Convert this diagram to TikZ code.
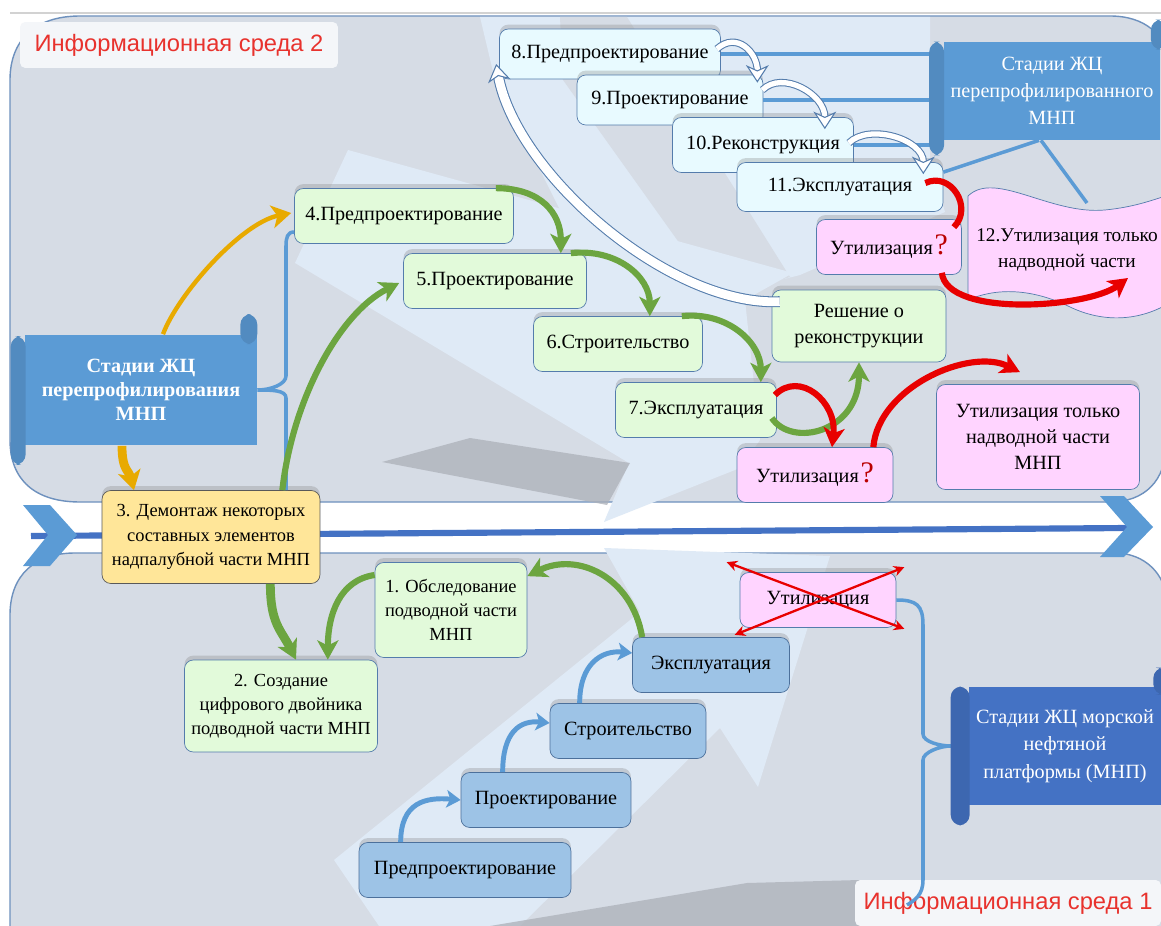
\documentclass[tikz,border=0pt]{standalone}
\usepackage{fontspec}
\setmainfont{Liberation Serif}
\newfontfamily\titlefont{Liberation Sans}
\usetikzlibrary{arrows.meta,shadows,calc,positioning}

\definecolor{panelgray}{RGB}{214,220,229}
\definecolor{paneledge}{RGB}{110,145,190}
\definecolor{palebg}{RGB}{223,234,246}
\definecolor{shadegray}{RGB}{172,176,184}
\definecolor{greenfill}{RGB}{226,250,218}
\definecolor{cyanfill}{RGB}{232,250,255}
\definecolor{pinkfill}{RGB}{255,212,255}
\definecolor{bluefill}{RGB}{157,195,230}
\definecolor{yellowfill}{RGB}{255,230,153}
\definecolor{boxedge}{RGB}{84,124,172}
\definecolor{scrollA}{RGB}{91,155,213}
\definecolor{scrollC}{RGB}{68,114,196}
\definecolor{greenarr}{RGB}{108,165,64}
\definecolor{redarr}{RGB}{232,0,0}
\definecolor{orangearr}{RGB}{232,170,0}
\definecolor{linkblue}{RGB}{91,155,213}
\definecolor{titlered}{RGB}{232,50,45}
\definecolor{titlefill}{RGB}{244,246,249}

\newcommand{\qsign}{\kern1pt\textcolor{redarr!80!black}{\fontsize{17}{15}\selectfont ?}}

\tikzset{
  panel/.style={fill=panelgray, draw=paneledge, line width=0.8pt},
  pale/.style={fill=palebg},
  shade/.style={fill=shadegray, opacity=0.75},
  title/.style={fill=titlefill, rounded corners=3pt, minimum width=6.36cm, minimum height=0.92cm,
    text=titlered, font=\titlefont\fontsize{13.5}{16}\selectfont},
  stage/.style={draw=boxedge, rounded corners=5pt, minimum height=1.1cm, align=center, inner sep=2pt,
    font=\fontsize{11.5}{15}\selectfont,
    drop shadow={shadow xshift=0pt, shadow yshift=2.5pt, opacity=0.3}},
  gbox/.style={stage, fill=greenfill},
  cbox/.style={stage, fill=cyanfill},
  pbox/.style={stage, fill=pinkfill},
  bbox/.style={stage, fill=bluefill, draw=boxedge!90!black},
  ybox/.style={stage, fill=yellowfill, draw=gray!70!black, font=\fontsize{10.5}{14}\selectfont},
  smalltext/.style={font=\fontsize{10.5}{13.8}\selectfont},
  scroll/.style={fill=scrollA, text=white, align=center, inner sep=2pt,
    font=\fontsize{11.5}{15.5}\selectfont},
  curl/.style={fill=#1!90!black, rounded corners=6pt},
  link/.style={draw=linkblue, line width=2pt},
  garrow/.style={draw=greenarr, line width=3.5pt, -{Stealth[length=11pt, width=12pt, inset=3pt]}},
  rarrow/.style={draw=redarr, line width=3.5pt, -{Stealth[length=11pt, width=12pt, inset=3pt]}},
  oarrow/.style={draw=orangearr, line width=2.5pt, -{Stealth[length=11pt, width=13pt, inset=3pt]}},
  barrow/.style={draw=linkblue, line width=2.8pt, -{Stealth[length=8pt, width=10pt, inset=2pt]}},
  hollow/.style={draw=boxedge, line width=0.6pt, double=white, double distance=#1,
    -{Stealth[length=10pt, width=13pt, inset=3pt, fill=white]}},
  hollow/.default=3pt,
  cross/.style={draw=redarr, line width=1.3pt, {Stealth[length=6pt, width=6pt]}-{Stealth[length=6pt, width=6pt]}}
}

\begin{document}
\begin{tikzpicture}[x=0.02cm, y=-0.02cm]
  \useasboundingbox (0,0) rectangle (1161,926);
  \fill[white] (0,0) rectangle (1161,926);
  \draw[gray!35, line width=0.8pt] (10,13) -- (1161,13);

  % Information environments
  \draw[panel] (10,80) .. controls (10,40) and (35,16) .. (80,16) -- (1110,16)
    .. controls (1145,16) and (1166,35) .. (1166,60) -- (1166,445)
    .. controls (1166,480) and (1145,502) .. (1110,502) -- (80,502)
    .. controls (35,502) and (10,480) .. (10,440) -- cycle;
  \draw[panel] (10,940) -- (10,615) .. controls (10,575) and (35,553) .. (75,553) -- (1115,553)
    .. controls (1145,553) and (1166,575) .. (1166,600) -- (1166,940) -- cycle;

  % Light background shapes
  \fill[pale] (480,17) -- (930,17) -- (930,160) -- (945,212) -- (800,275) -- (700,300) -- (560,210) -- (495,80) -- cycle;
  \fill[panelgray] (560,17) -- (627,17) -- (790,277) -- (720,300) -- (563,80) -- cycle;
  \fill[pale] (348,150) -- (793,273) -- (745,300) -- (760,440) -- (740,468) -- (604,522) -- (629,463) -- (295,263) -- cycle;
  \fill[pale] (334,860) -- (640,612) -- (604,548) -- (830,556) -- (758,787) -- (720,728) -- (520,926) -- (379,926) -- cycle;
  \fill[shade] (382,462) -- (470,438) -- (630,463) -- (607,505) -- cycle;
  \fill[shade] (490,926) -- (747,883) -- (860,880) -- (860,926) -- cycle;

  % Time axis
  \draw[scrollC, line width=3.5pt] (31,536) -- (1128,528);
  \fill[scrollA] (23,505) -- (50,505) -- (77,535) -- (50,566) -- (23,566) -- (48,535) -- cycle;
  \fill[scrollA] (1100,496) -- (1124,496) -- (1153,527) -- (1124,557) -- (1100,557) -- (1127,527) -- cycle;

  % Titles
  \node[title] (env2) at (179,45) {Информационная среда 2};
  \node[title, minimum width=6.12cm] (env1) at (1008,903) {Информационная среда 1};

  % Scrolls
  \node[scroll, minimum width=4.64cm, minimum height=2.22cm, font=\bfseries\fontsize{11.5}{13.5}\selectfont] (scA) at (141,390) {Стадии ЖЦ\\перепрофилирования\\МНП};
  \node[scroll, minimum width=4.34cm, minimum height=1.96cm] (scB) at (1052,91) {Стадии ЖЦ\\перепрофилированного\\МНП};
  \node[scroll, fill=scrollC, minimum width=3.84cm, minimum height=2.36cm] (scC) at (1065,746) {Стадии ЖЦ морской\\нефтяной\\платформы (МНП)};

  % Upper stages (second life cycle)
  \node[cbox, minimum width=4.42cm, minimum height=1.0cm] (b8) at (610,54) {8.Предпроектирование};
  \node[cbox, minimum width=3.72cm, minimum height=1.0cm] (b9) at (670,100) {9.Проектирование};
  \node[cbox, minimum width=3.62cm] (b10) at (763,145) {10.Реконструкция};
  \node[cbox, minimum width=4.12cm, minimum height=0.98cm] (b11) at (840,187) {11.Эксплуатация};
  \node[pbox, minimum width=2.9cm] (uu) at (889,247) {Утилизация\qsign};
  \coordinate (wtop) at (1087,203);
  \draw[link] ($(scB.south)+(-11,0)$) -- (wtop);
  \draw[fill=pinkfill, draw=boxedge] (968,196) .. controls (995,170) and (1050,215) .. (1105,210)
    .. controls (1135,207) and (1152,200) .. (1166,196) -- (1166,305)
    .. controls (1135,322) and (1100,322) .. (1068,306)
    .. controls (1030,288) and (995,288) .. (968,300) -- cycle;
  \node[align=center, font=\fontsize{11}{15}\selectfont] (w12) at (1067,250) {12.Утилизация только\\надводной части};

  % Middle stages (re-profiling)
  \node[gbox, minimum width=4.38cm] (b4) at (404,216) {4.Предпроектирование};
  \node[gbox, minimum width=3.66cm] (b5) at (495,281) {5.Проектирование};
  \node[gbox, minimum width=3.38cm] (b6) at (618,344) {6.Строительство};
  \node[gbox, minimum width=3.22cm] (b7) at (696,410) {7.Эксплуатация};
  \node[gbox, minimum width=3.48cm, minimum height=1.44cm] (dec) at (859,326) {Решение о\\реконструкции};
  \node[pbox, minimum width=3.12cm] (um) at (815,475) {Утилизация\qsign};
  \node[pbox, minimum width=4.06cm, minimum height=2.1cm] (us) at (1038,437) {Утилизация только\\надводной части\\МНП};

  % Lower stages (platform)
  \node[ybox, minimum width=4.36cm, minimum height=1.86cm] (b3) at (211,537) {3. Демонтаж некоторых\\составных элементов\\надпалубной части МНП};
  \node[gbox, smalltext, minimum width=3.04cm, minimum height=1.9cm] (b1) at (451,610) {1. Обследование\\подводной части\\МНП};
  \node[gbox, smalltext, minimum width=3.86cm, minimum height=1.84cm] (b2) at (281,706) {2. Создание\\цифрового двойника\\подводной части МНП};
  \node[bbox, minimum width=4.24cm] (p1) at (465,870) {Предпроектирование};
  \node[bbox, minimum width=3.4cm] (p2) at (546,800) {Проектирование};
  \node[bbox, minimum width=3.12cm] (p3) at (628,731) {Строительство};
  \node[bbox, minimum width=3.14cm] (p4) at (711,665) {Эксплуатация};
  \node[pbox, minimum width=3.12cm] (ux) at (818,600) {Утилизация};

  % Links to the scrolls
  \foreach \b in {b8,b9,b10}
    \draw[link] (\b.east) -- (\b.east -| scB.west);
  \draw[link] ($(scB.south)+(-13,0)$) -- ($(b11.north east)+(0,10)$);
  \draw[link] ($(b4.west)+(0,16)$) .. controls +(-7,0) and +(0,-8) .. (286,246) -- (286,376)
    .. controls +(0,8) and +(14,0) .. (scA.east) .. controls +(14,0) and +(0,-8) .. (286,398) -- (286,490);
  \draw[link] (ux.east) .. controls +(20,0) and +(0,-20) .. (923,625) -- (923,734)
    .. controls +(0,8) and +(-10,0) .. ($(scC.west)+(-18,0)$) .. controls +(-10,0) and +(0,-8) .. (923,760)
    -- (923,880) .. controls +(0,15) and +(8,-5) .. (907,905);

  % Scroll curls
  \fill[curl=scrollA] ($(scA.north west)+(-14,2)$) rectangle ($(scA.south west)+(1,19)$);
  \fill[curl=scrollA] ($(scA.north east)+(-17,-20)$) rectangle ($(scA.north east)+(0,10)$);
  \fill[curl=scrollA] ($(scB.north west)+(-14,0)$) rectangle ($(scB.south west)+(1,15)$);
  \fill[curl=scrollA] ($(scB.north east)+(-10,-22)$) rectangle ($(scB.north east)+(5,8)$);
  \fill[curl=scrollC] ($(scC.north west)+(-18,0)$) rectangle ($(scC.south west)+(1,20)$);
  \fill[curl=scrollC] ($(scC.north east)+(-8,-19)$) rectangle ($(scC.north east)+(5,8)$);

  % Draw arrows
  \draw[hollow=5pt] ($(dec.north west)+(8,12)$) .. controls +(-110,5) and +(20,110) .. ($(b8.west)+(-3,10)$);
  \draw[hollow] ($(b8.east)+(-4,-5)$) .. controls +(20,-18) and +(0,-30) .. ($(b9.north east)+(-6,8)$);
  \draw[hollow] ($(b9.east)+(-1,-10)$) .. controls +(20,-20) and +(0,-35) .. ($(b10.north east)+(-29,12)$);
  \draw[hollow] ($(b10.east)+(-5,-2)$) .. controls +(20,-20) and +(0,-35) .. ($(b11.north east)+(-20,12)$);

  \draw[garrow] ($(b4.north east)+(-18,0)$) .. controls +(45,0) and +(0,-40) .. ($(b5.north east)+(-26,0)$);
  \draw[garrow] ($(b5.north east)+(-16,0)$) .. controls +(45,-5) and +(0,-40) .. ($(b6.north east)+(-53,0)$);
  \draw[garrow] ($(b6.north east)+(-21,0)$) .. controls +(45,-5) and +(0,-40) .. ($(b7.north east)+(-16,0)$);
  \draw[garrow] ($(b7.east)+(-5,8)$) .. controls +(20,30) and +(0,70) .. (dec.south);
  \draw[garrow] ($(b3.north east)+(-38,0)$) .. controls +(10,-90) and +(-60,30) .. ($(b5.west)+(-4,2)$);
  \draw[garrow, line width=5pt] ($(b3.south east)+(-50,0)$) .. controls +(0,40) and +(-15,-30) .. ($(b2.north)+(15,0)$);
  \draw[garrow] ($(b1.west)+(0,-35)$) .. controls +(-35,5) and +(0,-45) .. ($(b2.north east)+(-50,0)$);
  \draw[garrow] ($(p4.north west)+(10,0)$) .. controls +(-10,-60) and +(50,-25) .. ($(b1.north east)+(0,14)$);

  \draw[oarrow] ($(scA.north)+(22,0)$) .. controls +(15,-40) and +(-50,10) .. ($(b4.west)+(-3,-3)$);
  \draw[oarrow, line width=5pt] ($(scA.south)+(-19,0)$) .. controls +(0,25) and +(-5,-20) .. ($(b3.north)+(-77,0)$);

  \draw[rarrow] ($(b7.east)+(-2,-15)$) .. controls +(25,-25) and +(5,-45) .. ($(um.north)+(17,0)$);
  \draw[rarrow] ($(um.north east)+(-20,0)$) .. controls +(5,-60) and +(-50,-25) .. ($(us.north)+(-18,-12)$);
  \draw[redarr, line width=3.5pt] ($(b11.east)+(-18,-4)$) .. controls +(25,-12) and +(20,-20) .. ($(uu.north east)+(-8,8)$);
  \draw[rarrow] ($(uu.south east)+(-20,-2)$) .. controls +(5,45) and +(-40,30) .. ($(w12.center)+(61,28)$);

  \draw[barrow] ($(p1.north west)+(42,0)$) .. controls +(0,-40) and +(-35,-3) .. (p2.west);
  \draw[barrow] ($(p2.north west)+(42,0)$) .. controls +(0,-40) and +(-30,-3) .. ($(p3.west)+(0,-8)$);
  \draw[barrow] ($(p3.north west)+(30,0)$) .. controls +(0,-40) and +(-30,-3) .. ($(p4.west)+(0,-12)$);

  % Crossed out
  \draw[cross] ($(ux.north west)+(-13,-10)$) -- ($(ux.south east)+(8,1)$);
  \draw[cross] ($(ux.south west)+(-5,7)$) -- ($(ux.north east)+(8,-5)$);
\end{tikzpicture}
\end{document}
